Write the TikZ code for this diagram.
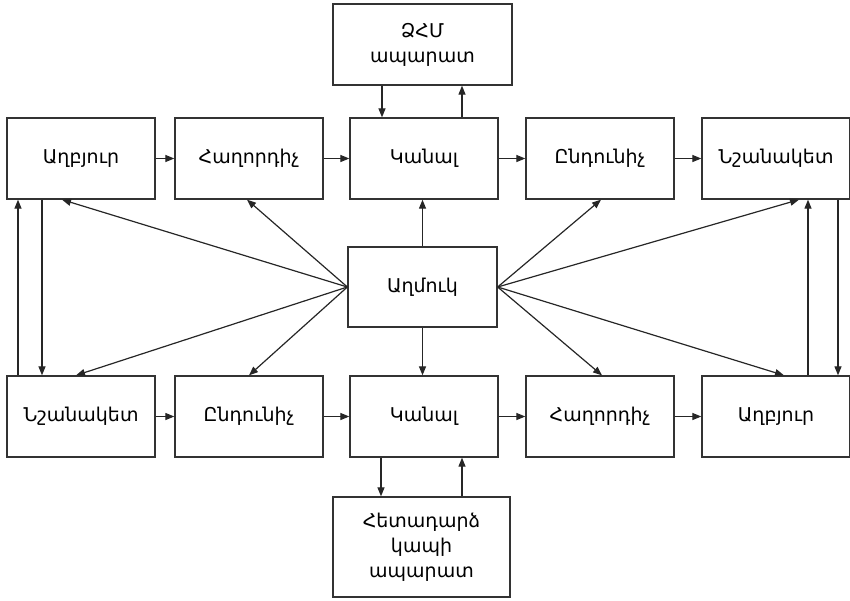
\documentclass[tikz,border=0pt]{standalone}
\usepackage{fontspec}
\setmainfont{DejaVu Sans}
\usetikzlibrary{arrows.meta,calc}
\tikzset{
  box/.style={draw=black!80, line width=1.3pt, rectangle, minimum width=148pt, minimum height=81pt, inner sep=2pt, font=\fontsize{19}{25}\selectfont, align=center},
  arr/.style={draw=black!85, line width=1.2pt, -{Triangle[length=9pt,width=7pt]}}
}
\begin{document}
\begin{tikzpicture}[x=1pt,y=-1pt]
\useasboundingbox (0,0) rectangle (850,600);
% top row
\node[box] (A1) at (81,158.5) {Աղբյուր};
\node[box] (H1) at (249,158.5) {Հաղորդիչ};
\node[box] (K1) at (424,158.5) {Կանալ};
\node[box] (E1) at (600,158.5) {Ընդունիչ};
\node[box] (N1) at (776,158.5) {Նշանակետ};
% bottom row
\node[box] (N2) at (81,416.5) {Նշանակետ};
\node[box] (E2) at (249,416.5) {Ընդունիչ};
\node[box] (K2) at (424,416.5) {Կանալ};
\node[box] (H2) at (600,416.5) {Հաղորդիչ};
\node[box] (A2) at (776,416.5) {Աղբյուր};
% others
\node[box, minimum width=179pt] (Z) at (422.5,44.5) {ՁՀՄ\\ապարատ};
\node[box, minimum width=149pt, minimum height=80pt] (M) at (422.5,287) {Աղմուկ};
\node[box, minimum width=177pt, minimum height=100pt] (R) at (421.5,547) {Հետադարձ\\կապի\\ապարատ};
% horizontal arrows
\draw[arr] (A1) -- (H1);
\draw[arr] (H1) -- (K1);
\draw[arr] (K1) -- (E1);
\draw[arr] (E1) -- (N1);
\draw[arr] (N2) -- (E2);
\draw[arr] (E2) -- (K2);
\draw[arr] (K2) -- (H2);
\draw[arr] (H2) -- (A2);
% ZHM
\draw[arr] ([xshift=-42pt]K1.north |- Z.south) -- ([xshift=-42pt]K1.north);
\draw[arr] ([xshift=38pt]K1.north) -- ([xshift=38pt]K1.north |- Z.south);
% feedback
\draw[arr] ([xshift=-43pt]K2.south) -- ([xshift=-43pt]K2.south |- R.north);
\draw[arr] ([xshift=38pt]K2.south |- R.north) -- ([xshift=38pt]K2.south);
% noise vertical
\draw[arr] (M.north) -- (M.north |- K1.south);
\draw[arr] (M.south) -- (M.south |- K2.north);
% noise diagonals
\draw[arr] (M.west) -- ([xshift=-19pt]A1.south);
\draw[arr] (M.west) -- ([xshift=-2pt]H1.south);
\draw[arr] (M.west) -- ([xshift=-5pt]N2.north);
\draw[arr] (M.west) -- ([xshift=0pt]E2.north);
\draw[arr] (M.east) -- ([xshift=1pt]E1.south);
\draw[arr] (M.east) -- ([xshift=23pt]N1.south);
\draw[arr] (M.east) -- ([xshift=2pt]H2.north);
\draw[arr] (M.east) -- ([xshift=8pt]A2.north);
% side loops
\draw[arr] ([xshift=-63pt]N2.north) -- ([xshift=-63pt]A1.south);
\draw[arr] ([xshift=-39pt]A1.south) -- ([xshift=-39pt]N2.north);
\draw[arr] ([xshift=32pt]A2.north) -- ([xshift=32pt]N1.south);
\draw[arr] ([xshift=62pt]N1.south) -- ([xshift=62pt]A2.north);
\end{tikzpicture}
\end{document}
